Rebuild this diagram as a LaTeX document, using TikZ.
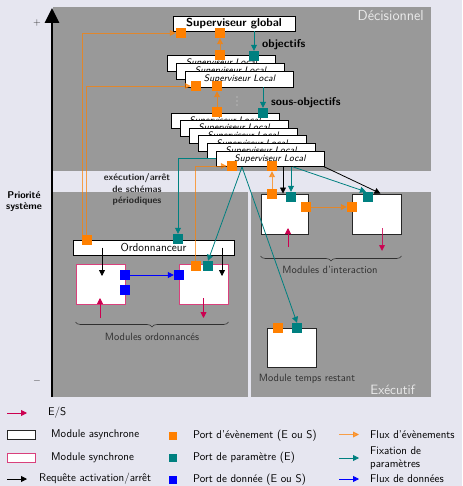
\documentclass[tikz,border=0pt]{standalone}
\usepackage{fontspec}
\usetikzlibrary{arrows.meta,calc,decorations.pathreplacing}
\definecolor{bgl}{HTML}{E6E6F0}
\definecolor{zone}{HTML}{999999}
\definecolor{evo}{HTML}{FF8000}
\definecolor{part}{HTML}{008080}
\definecolor{datb}{HTML}{0000FF}
\definecolor{ioc}{HTML}{CC0050}
\definecolor{lbl}{HTML}{303030}
\tikzset{
  port/.style={rectangle,inner sep=0pt,minimum size=10pt,draw=none},
  evport/.style={port,fill=evo},
  parport/.style={port,fill=part},
  datport/.style={port,fill=datb},
  supbox/.style={draw=black,fill=white,line width=0.8pt,inner sep=0pt,minimum width=108pt,minimum height=16pt,font=\sffamily\itshape\fontsize{9.4}{10}\selectfont},
  asyncmod/.style={draw=black!85,fill=white,line width=1pt,inner sep=0pt,minimum height=40pt},
  syncmod/.style={draw=ioc!75,fill=white,line width=1pt,inner sep=0pt,minimum width=49pt,minimum height=40pt},
  headed/.style={-{Triangle[length=6pt,width=6pt]}},
  evflow/.style={headed,draw=evo,draw opacity=0.7,fill opacity=0.7,line width=0.9pt},
  parflow/.style={headed,draw=part,line width=0.8pt},
  datflow/.style={headed,draw=datb,line width=0.8pt},
  reqflow/.style={headed,draw=black,line width=0.8pt},
  ioflow/.style={headed,draw=ioc,line width=0.9pt},
  lab/.style={font=\sffamily\fontsize{10.5}{12}\selectfont,text=lbl,inner sep=0pt},
  leg/.style={font=\sffamily\fontsize{11.2}{12}\selectfont,text=black,inner sep=0pt,anchor=west},
  brc/.style={decorate,decoration={brace,mirror,amplitude=5pt},draw=lbl,line width=0.6pt},
  blab/.style={font=\sffamily\bfseries\fontsize{11.3}{12}\selectfont,anchor=west,inner sep=0pt},
}
\begin{document}
\begin{tikzpicture}[x=1pt,y=-1pt]
\useasboundingbox (0,0) rectangle (462,486);
\fill[bgl] (0,0) rectangle (462,486);
% zones
\fill[zone] (53,7) rectangle (431,171);
\fill[zone] (53,192) rectangle (431,397);
\fill[bgl] (248,192) rectangle (250.5,397);
\node[font=\sffamily\fontsize{14.5}{15}\selectfont,text=white!92!black,anchor=north east,inner sep=0pt] (dec) at (424,10) {Décisionnel};
\node[font=\sffamily\fontsize{13.5}{14}\selectfont,text=white!92!black,anchor=south east,inner sep=0pt] (exe) at (415,395) {Exécutif};
% axis
\coordinate (axb) at (52,397);
\coordinate (axt) at (52,8);
\draw[line width=2.6pt,-{Triangle[length=15pt,width=14pt]}] (axb) -- (axt);
\node[font=\fontsize{10}{11}\selectfont,text=lbl] (plus) at (37,23) {$+$};
\node[font=\fontsize{10}{11}\selectfont,text=lbl] (minus) at (37,381) {$-$};
\node[align=center,font=\sffamily\bfseries\fontsize{9.8}{11}\selectfont,inner sep=0pt] (prio) at (24,202) {Priorité\\système};
\node[align=center,font=\sffamily\bfseries\fontsize{9.4}{11.5}\selectfont,inner sep=0pt,text=black!85] (exa) at (137,189.5) {exécution/arrêt\\de schémas\\périodiques};

% supervisors
\node[supbox,minimum width=122pt,minimum height=15pt,font=\sffamily\bfseries\fontsize{11.5}{12}\selectfont] (gs) at (234,23.5) {Superviseur global};
\foreach \i in {0,1,2}
  \node[supbox] (la\i) at (221.5+9*\i,63+8*\i) {Superviseur Local};
\fill[white!85!black] (237,97) circle (0.6) (237,101) circle (0.6) (237,105) circle (0.6);
\foreach \i in {0,...,5}
  \node[supbox,minimum height=15.5pt] (lb\i) at (225+9*\i,120.75+7.6*\i) {Superviseur Local};

% ports on supervisors
\node[evport] (gsEvL) at (181,33) {};
\node[evport] (gsEvR) at (220,33) {};
\node[parport] (laPar) at (254,56) {};
\node[evport] (laEvT) at (220,55) {};
\node[evport] (laEvL) at (196,86) {};
\node[evport] (laEvR) at (217,86) {};
\node[parport] (lbPar) at (263,113) {};
\node[evport] (lbEvT) at (217,112) {};
\node[evport] (lbEvL) at (232,166) {};
\node[evport] (lbEvR) at (272,166) {};
\node[blab] (obj) at (262,45) {objectifs};
\node[blab] (sobj) at (271,103) {sous-objectifs};

% scheduler and modules
\node[draw=black,fill=white,line width=0.8pt,minimum width=161pt,minimum height=15pt,inner sep=0pt,font=\sffamily\fontsize{11.5}{12}\selectfont] (ord) at (153.5,247.5) {Ordonnanceur};
\node[evport] (ordEv) at (87,240) {};
\node[parport] (ordPar) at (178,239) {};
\node[syncmod] (m1) at (100.5,284) {};
\node[syncmod] (m2) at (203.5,284) {};
\node[datport] (m1Dat1) at (125,275) {};
\node[datport] (m1Dat2) at (125,290) {};
\node[datport] (m2Dat) at (179,275) {};
\node[evport] (m2Ev) at (196,266) {};
\node[parport] (m2Par) at (208,266) {};
\node[asyncmod,minimum width=47pt] (i1) at (284.5,214) {};
\node[asyncmod,minimum width=49pt] (i2) at (376.5,214) {};
\node[evport] (i1Ev) at (272,194) {};
\node[parport] (i1Par) at (291,197) {};
\node[evport] (i1EvR) at (306,207) {};
\node[evport] (i2EvL) at (352,207) {};
\node[parport] (i2Par) at (368,197) {};
\node[asyncmod,minimum width=49pt,minimum height=39pt] (tr) at (291.5,347.5) {};
\node[evport] (trEv) at (278,328) {};
\node[parport] (trPar) at (297,328) {};

\node[lab] (lmo) at (152,337) {Modules ordonnancés};
\node[lab] (lmi) at (330,270) {Modules d’interaction};
\node[lab] (lmt) at (307,379) {Module temps restant};
\draw[brc] (m1.south west |- 0,322) -- (m2.south east |- 0,322);
\draw[brc] (i1.south west |- 0,256) -- (i2.south east |- 0,256);

% connectors between supervisors
\draw[parflow] (gs.south -| laPar) -- (laPar.north);
\draw[parflow] (la2.south -| lbPar) -- (lbPar.north);
\draw[evflow] (laEvT.north) -- (gsEvR.south);
\draw[evflow] (lbEvT.north) -- (laEvR.south);
\draw[evflow] ([xshift=0.8pt]ordEv.north west) |- (gsEvL.west);
\draw[evflow] ([xshift=4.8pt]ordEv.north west) |- (laEvL.west);
\draw[evflow] ([xshift=-1pt]m2Ev.north) |- (lbEvL.west);
\draw[parflow] (lb5.west) -| (ordPar.north);
\coordinate (tsrc) at ([xshift=-28pt]lb5.south);
\draw[parflow] (tsrc) -- (m2Par.north);
\draw[parflow] (tsrc) -- (trPar.north);
\draw[evflow] (i1Ev.north) -- (lbEvR.south);
\coordinate (bs1) at ([xshift=13pt]lb5.south);
\draw[reqflow] (bs1) -- (bs1 |- i1.north);
\draw[parflow] (i1Par |- lb5.south) -- (i1Par.north);
\coordinate (ts2) at ([xshift=23pt]lb5.south);
\draw[parflow] (ts2) -- ([xshift=-2pt]i2Par.north);
\draw[reqflow] (lb5.south east) -- ([xshift=4pt]i2.north);
\draw[evflow] (i1EvR.east) -- (i2EvL.west);

% scheduler to modules
\coordinate (os1) at ([xshift=1.5pt]ord.center -| m1);
\draw[reqflow] (os1) -- ([xshift=1.5pt,yshift=8pt]m1.center);
\coordinate (os2) at ([xshift=18.5pt]ord.center -| m2);
\draw[reqflow] (os2) -- ([xshift=18.5pt,yshift=8pt]m2.center);
\draw[datflow] (m1Dat1.east) -- (m2Dat.west);
\draw[ioflow] ([xshift=-0.5pt,yshift=-34pt]m1.center) -- ([xshift=-0.5pt,yshift=-14pt]m1.center);
\draw[ioflow] ([yshift=-14pt]m2.center) -- ([yshift=-34pt]m2.center);
\draw[ioflow] ([xshift=3.5pt,yshift=-33pt]i1.center) -- ([xshift=3.5pt,yshift=-14pt]i1.center);
\draw[ioflow,draw opacity=0.8] ([xshift=5.5pt,yshift=-14pt]i2.center) -- ([xshift=5.5pt,yshift=-37pt]i2.center);

% legend
\coordinate (g1a) at (7,413); \coordinate (g1b) at (27,413);
\draw[ioflow] (g1a) -- (g1b);
\node[leg] (tES) at (48,413) {E/S};
\node[draw=black!85,fill=white,line width=1pt,minimum width=28pt,minimum height=9pt,inner sep=0pt] (gasync) at (21,434.5) {};
\node[leg] (tasync) at (51,434.5) {Module asynchrone};
\node[draw=ioc!75,fill=white,line width=1pt,minimum width=28pt,minimum height=9pt,inner sep=0pt] (gsync) at (21,457.5) {};
\node[leg] (tsync) at (51,457.5) {Module synchrone};
\coordinate (g4a) at (7,479); \coordinate (g4b) at (27,479);
\draw[reqflow] (g4a) -- (g4b);
\node[leg] (treq) at (39,479) {Requête activation/arrêt};
\node[evport,minimum size=8pt] (gev) at (173,435.5) {};
\node[leg] (tev) at (193,435.5) {Port d’évènement (E ou S)};
\node[parport,minimum size=8pt] (gpar) at (173,458) {};
\node[leg] (tpar) at (193,458) {Port de paramètre (E)};
\node[datport,minimum size=8pt] (gdat) at (173,480) {};
\node[leg] (tdat) at (193,480) {Port de donnée (E ou S)};
\coordinate (g5a) at (339,434.5); \coordinate (g5b) at (359,434.5);
\draw[evflow] (g5a) -- (g5b);
\node[leg] (tfe) at (370,434.5) {Flux d’évènements};
\coordinate (g6a) at (339,458); \coordinate (g6b) at (359,458);
\draw[parflow] (g6a) -- (g6b);
\node[leg,align=left,font=\sffamily\fontsize{11.2}{13}\selectfont] (tfp) at (370,458) {Fixation de\\paramètres};
\coordinate (g7a) at (339,479); \coordinate (g7b) at (359,479);
\draw[datflow] (g7a) -- (g7b);
\node[leg] (tfd) at (370,479) {Flux de données};
\end{tikzpicture}
\end{document}
